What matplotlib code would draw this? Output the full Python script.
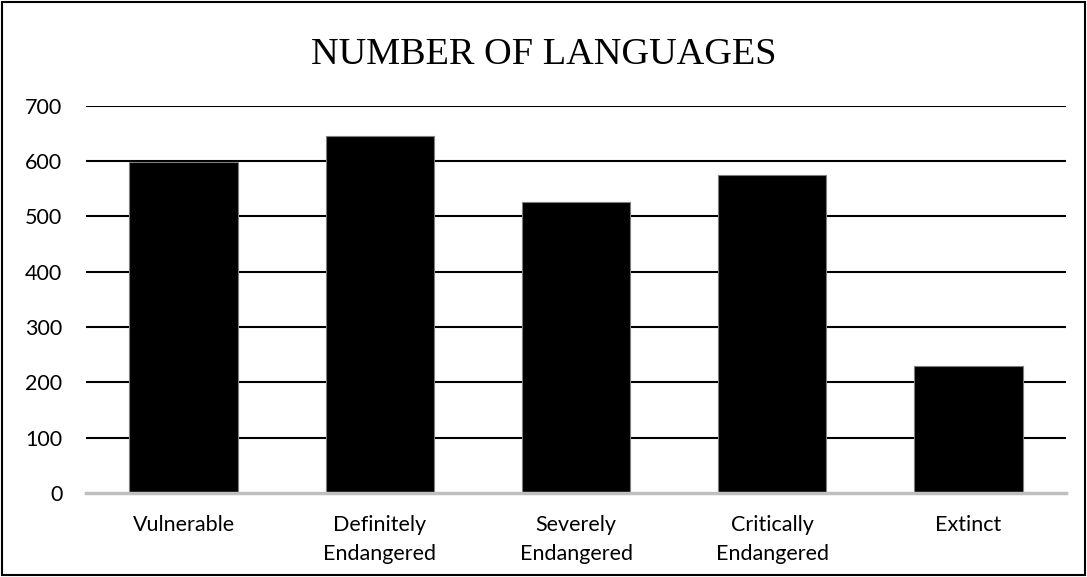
import matplotlib.pyplot as plt
from matplotlib.patches import Rectangle

categories = ["Vulnerable", "Definitely\nEndangered", "Severely\nEndangered",
              "Critically\nEndangered", "Extinct"]
values = [598, 645, 526, 575, 230]
yticks = [0, 100, 200, 300, 400, 500, 600, 700]

fig = plt.figure(figsize=(10.87, 5.77), dpi=100)
ax = fig.add_axes([0.0791, 0.1456, 0.9016, 0.6712])

x = range(len(categories))
ax.bar(x, values, width=0.556, color="black", edgecolor="#7f7f7f",
       linewidth=0.8, zorder=3)

ax.set_xlim(-0.5, len(categories) - 0.5)
ax.set_ylim(0, 700)
ax.set_yticks(yticks)
ax.set_yticklabels([str(t) for t in yticks], fontfamily="Lato", fontsize=15.5)
ax.set_xticks(list(x))
ax.set_xticklabels(categories, fontfamily="Lato", fontsize=15.5, linespacing=1.55)
ax.tick_params(axis="both", length=0)
ax.tick_params(axis="y", pad=17)
ax.tick_params(axis="x", pad=16)

for t in yticks[1:]:
    ax.axhline(t, color="black", linewidth=1.5, zorder=1)

for s in ["top", "right", "left"]:
    ax.spines[s].set_visible(False)
ax.spines["bottom"].set_color("#bfbfbf")
ax.spines["bottom"].set_linewidth(2.5)
ax.spines["bottom"].set_zorder(4)

fig.text(0.5, 0.905, "NUMBER OF LANGUAGES", ha="center", va="center",
         fontfamily="Liberation Serif", fontsize=27.5)

fig.patches.append(Rectangle((0.002, 0.003), 0.996, 0.994, transform=fig.transFigure,
                             fill=False, edgecolor="black", linewidth=1.5))

fig.savefig("out.png", dpi=100)
